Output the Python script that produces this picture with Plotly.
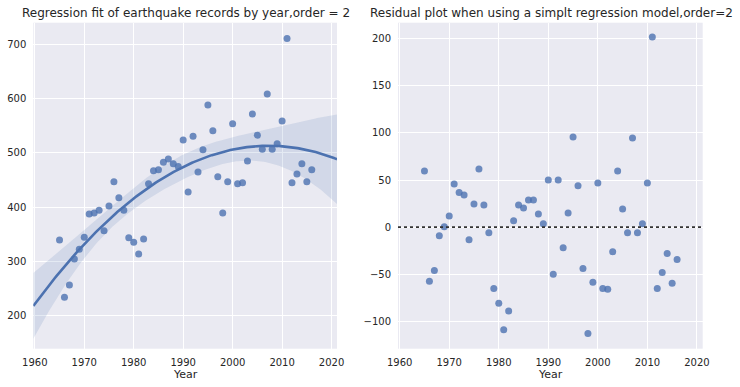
import numpy as np
import plotly.graph_objects as go

years = list(range(1965, 2017))
counts = [339, 233, 256, 304, 322, 344, 387, 389, 394, 356, 402, 447, 417, 394, 343, 335,
          313, 341, 443, 467, 469, 483, 489, 480, 475, 524, 428, 531, 465, 506, 589, 541,
          456, 389, 447, 554, 443, 445, 485, 572, 533, 507, 609, 507, 517, 559, 712, 445,
          461, 480, 447, 469]
residuals = [59.6, -57.5, -46, -9.1, 0.4, 11.9, 45.8, 36.8, 34, -13.3, 24.6, 61.7, 23.5, -6,
             -65, -80.7, -109, -89, 6.7, 23.5, 20.4, 28.8, 28.8, 14, 3.5, 50, -50, 50, -21.8,
             15, 95.6, 44, -43.9, -113, -58.6, 46.8, -65, -66, -26, 59.6, 19.3, -6, 94.6, -6,
             3.5, 46.8, 201.8, -65, -48, -28, -59.6, -34.4]

x_ticks = [1960, 1970, 1980, 1990, 2000, 2010, 2020]
left_y_ticks = [200, 300, 400, 500, 600, 700]
right_y_ticks = [-100, -50, 0, 50, 100, 150, 200]
title_left = "Regression fit of earthquake records by year,order = 2"
title_right = "Residual plot when using a simplt regression model,order=2"
x_label = "Year"

BLUE = "#4C72B0"
TXT = "#262626"
FONT = "DejaVu Sans"

# quadratic regression fit with a 95% robust (HC3, bootstrap-like) confidence band
xa = np.array(years, dtype=float)
ya = np.array(counts, dtype=float)
xc = xa.mean()
X = np.column_stack([np.ones_like(xa), xa - xc, (xa - xc) ** 2])
beta, *_ = np.linalg.lstsq(X, ya, rcond=None)
e = ya - X @ beta
XtXi = np.linalg.inv(X.T @ X)
h = np.einsum("ij,jk,ik->i", X, XtXi, X)
w = (e / (1 - h)) ** 2
meat = X.T @ (X * w[:, None])
V = XtXi @ meat @ XtXi
grid = np.linspace(1959.7, 2021.1, 200)
G = np.column_stack([np.ones_like(grid), grid - xc, (grid - xc) ** 2])
yhat = G @ beta
se = np.sqrt(np.einsum("ij,jk,ik->i", G, V, G))
zc = 1.96
upper = yhat + zc * se
lower = yhat - zc * se

fig = go.Figure()

fig.add_trace(go.Scatter(x=years, y=counts, mode="markers", xaxis="x", yaxis="y",
                         marker=dict(color=BLUE, opacity=0.8, size=7, line=dict(width=0)),
                         showlegend=False))
fig.add_trace(go.Scatter(x=np.concatenate([grid, grid[::-1]]),
                         y=np.concatenate([upper, lower[::-1]]),
                         fill="toself", fillcolor="rgba(76,114,176,0.15)",
                         line=dict(width=0), mode="lines", xaxis="x", yaxis="y",
                         showlegend=False, hoverinfo="skip"))
fig.add_trace(go.Scatter(x=grid, y=yhat, mode="lines", xaxis="x", yaxis="y",
                         line=dict(color=BLUE, width=2.6), showlegend=False))

fig.add_trace(go.Scatter(x=years, y=residuals, mode="markers", xaxis="x2", yaxis="y2",
                         marker=dict(color=BLUE, opacity=0.8, size=7, line=dict(width=0)),
                         showlegend=False))

W, H = 740, 387
def fx(px):
    return px / W
def fy(py):
    return 1 - py / H

axis_common = dict(showgrid=True, gridcolor="white", gridwidth=1, zeroline=False,
                   showline=False, ticks="", automargin=False, ticklabelstandoff=6,
                   tickfont=dict(family=FONT, size=10, color=TXT))

fig.update_layout(
    width=W, height=H,
    margin=dict(l=0, r=0, t=0, b=0),
    paper_bgcolor="white",
    plot_bgcolor="#EAEAF2",
    font=dict(family=FONT, color=TXT),
    xaxis=dict(domain=[fx(33.3), fx(337)], range=[1959.7, 2021.1], tickvals=x_ticks,
               anchor="y", **axis_common),
    yaxis=dict(domain=[fy(348.7), fy(22.7)], range=[138, 741], tickvals=left_y_ticks,
               anchor="x", **axis_common),
    xaxis2=dict(domain=[fx(398), fx(702.7)], range=[1959.66, 2021.17], tickvals=x_ticks,
                anchor="y2", **axis_common),
    yaxis2=dict(domain=[fy(348.7), fy(22.7)], range=[-129, 217], tickvals=right_y_ticks,
                anchor="x2", **axis_common),
    shapes=[dict(type="line", xref="x2 domain", yref="y2", x0=0, x1=1, y0=0, y1=0,
                 line=dict(color="#333333", width=1.8, dash="dot"))],
    annotations=[
        dict(text=title_left, xref="paper", yref="paper", x=fx(185.7), y=fy(12.7),
             xanchor="center", yanchor="middle", showarrow=False,
             font=dict(family=FONT, size=12, color=TXT)),
        dict(text=title_right, xref="paper", yref="paper", x=fx(551.3), y=fy(12.7),
             xanchor="center", yanchor="middle", showarrow=False,
             font=dict(family=FONT, size=12, color=TXT)),
        dict(text=x_label, xref="paper", yref="paper", x=fx(185.2), y=fy(374),
             xanchor="center", yanchor="middle", showarrow=False,
             font=dict(family=FONT, size=11, color=TXT)),
        dict(text=x_label, xref="paper", yref="paper", x=fx(550.3), y=fy(374),
             xanchor="center", yanchor="middle", showarrow=False,
             font=dict(family=FONT, size=11, color=TXT)),
    ],
)

fig.write_html("out.html", config={"displayModeBar": False},
               post_script="document.body.style.margin='0';document.body.style.padding='0';")
